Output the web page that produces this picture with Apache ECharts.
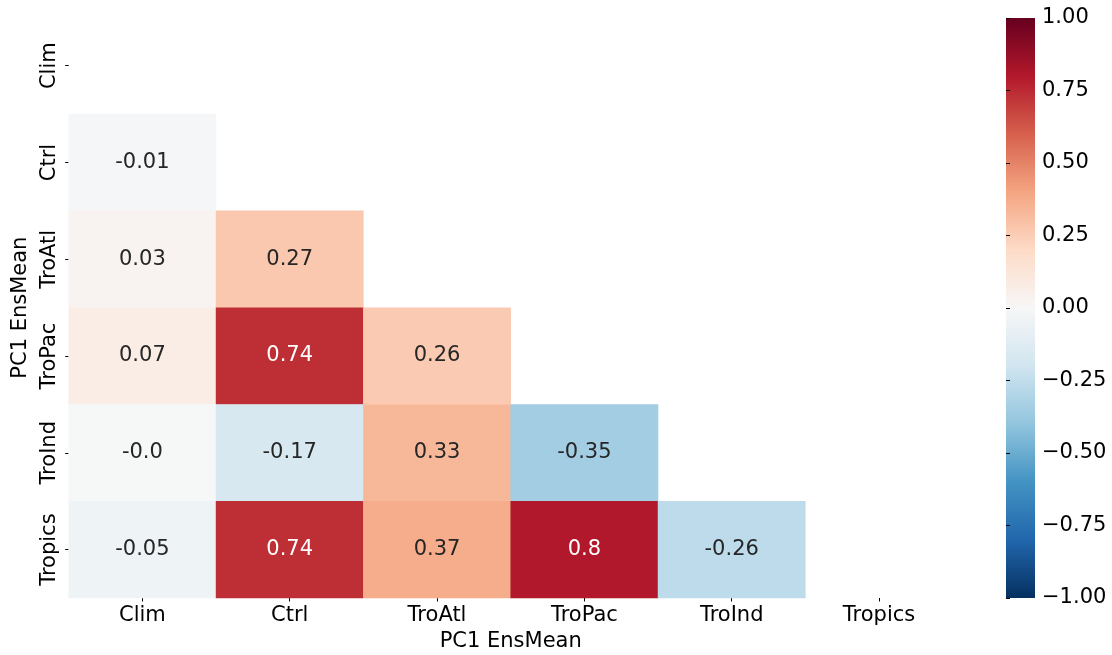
<!DOCTYPE html>
<html>
<head>
<meta charset="utf-8">
<script src="https://cdn.jsdelivr.net/npm/echarts@6/dist/echarts.min.js"></script>
<style>
html,body{margin:0;padding:0;background:#fff;}
#chart{width:1112px;height:655px;}
</style>
</head>
<body>
<div id="chart"></div>
<script>
const categories = ['Clim', 'Ctrl', 'TroAtl', 'TroPac', 'TroInd', 'Tropics'];
// lower-triangle correlation values per row (columns start at Clim)
const rowCtrl    = [-0.01];
const rowTroAtl  = [0.03, 0.27];
const rowTroPac  = [0.07, 0.74, 0.26];
const rowTroInd  = [-0.004, -0.17, 0.33, -0.35];
const rowTropics = [-0.05, 0.74, 0.37, 0.8, -0.26];
const labelsCtrl    = ['-0.01'];
const labelsTroAtl  = ['0.03', '0.27'];
const labelsTroPac  = ['0.07', '0.74', '0.26'];
const labelsTroInd  = ['-0.0', '-0.17', '0.33', '-0.35'];
const labelsTropics = ['-0.05', '0.74', '0.37', '0.8', '-0.26'];
const colorbarTicks = [-1, -0.75, -0.5, -0.25, 0, 0.25, 0.5, 0.75, 1];
const rdbuR = ['#053061','#2166ac','#4393c3','#92c5de','#d1e5f0','#f7f7f7','#fddbc7','#f4a582','#d6604d','#b2182b','#67001f'];

const rows = [[], rowCtrl, rowTroAtl, rowTroPac, rowTroInd, rowTropics];
const rowLabels = [[], labelsCtrl, labelsTroAtl, labelsTroPac, labelsTroInd, labelsTropics];
const data = [];
rows.forEach((r, ri) => {
  r.forEach((v, ci) => {
    data.push({
      value: [ci, ri, v],
      txt: rowLabels[ri][ci],
      label: { color: Math.abs(v) > 0.55 ? '#ffffff' : '#262626' }
    });
  });
});

const FONT = 'DejaVu Sans';
const FS = 21;
const gradStops = rdbuR.map((c, i) => ({ offset: i / (rdbuR.length - 1), color: c }));
const chart = echarts.init(document.getElementById('chart'));
chart.setOption({
  backgroundColor: '#fff',
  animation: false,
  textStyle: { fontFamily: FONT },
  grid: [
    { left: 68.7, top: 17.3, width: 884, height: 580.7, outerBoundsMode: 'none', containLabel: false },
    { left: 1006, top: 18, width: 29, height: 580, outerBoundsMode: 'none', containLabel: false,
      show: true, borderWidth: 0,
      backgroundColor: new echarts.graphic.LinearGradient(0, 1, 0, 0, gradStops) }
  ],
  xAxis: [
    {
      type: 'category', data: categories, gridIndex: 0,
      axisLine: { show: false },
      axisTick: { show: true, alignWithLabel: true, length: 3.5, lineStyle: { color: '#000', width: 1 } },
      axisLabel: { color: '#000', fontSize: FS, fontFamily: FONT, margin: 7 },
      splitLine: { show: false },
      name: 'PC1 EnsMean', nameLocation: 'middle', nameGap: 33,
      nameTextStyle: { color: '#000', fontSize: FS, fontFamily: FONT }
    },
    { type: 'value', gridIndex: 1, show: false, min: 0, max: 1 }
  ],
  yAxis: [
    {
      type: 'category', data: categories, gridIndex: 0, inverse: true,
      axisLine: { show: false },
      axisTick: { show: true, alignWithLabel: true, length: 3.5, lineStyle: { color: '#000', width: 1 } },
      axisLabel: { color: '#000', fontSize: FS, fontFamily: FONT, rotate: 90, margin: 9 },
      splitLine: { show: false },
      name: 'PC1 EnsMean', nameLocation: 'middle', nameGap: 33, nameRotate: 90,
      nameTextStyle: { color: '#000', fontSize: FS, fontFamily: FONT }
    },
    {
      type: 'value', gridIndex: 1, position: 'right', min: -1, max: 1, interval: 0.25,
      axisLine: { show: false },
      splitLine: { show: false },
      axisTick: { show: true, length: 4, lineStyle: { color: '#000', width: 1 } },
      axisLabel: {
        color: '#000', fontSize: FS, fontFamily: FONT, margin: 7,
        formatter: v => (v < 0 ? '\u2212' : '') + Math.abs(v).toFixed(2)
      }
    }
  ],
  visualMap: {
    type: 'continuous', min: -1, max: 1, seriesIndex: 0, show: false,
    inRange: { color: rdbuR }
  },
  series: [
    {
      type: 'heatmap', xAxisIndex: 0, yAxisIndex: 0, data: data,
      label: {
        show: true, fontSize: FS, fontFamily: FONT,
        formatter: p => p.data.txt
      },
      itemStyle: { borderWidth: 0 },
      emphasis: { disabled: true }
    }
  ]
});
</script>
</body>
</html>
